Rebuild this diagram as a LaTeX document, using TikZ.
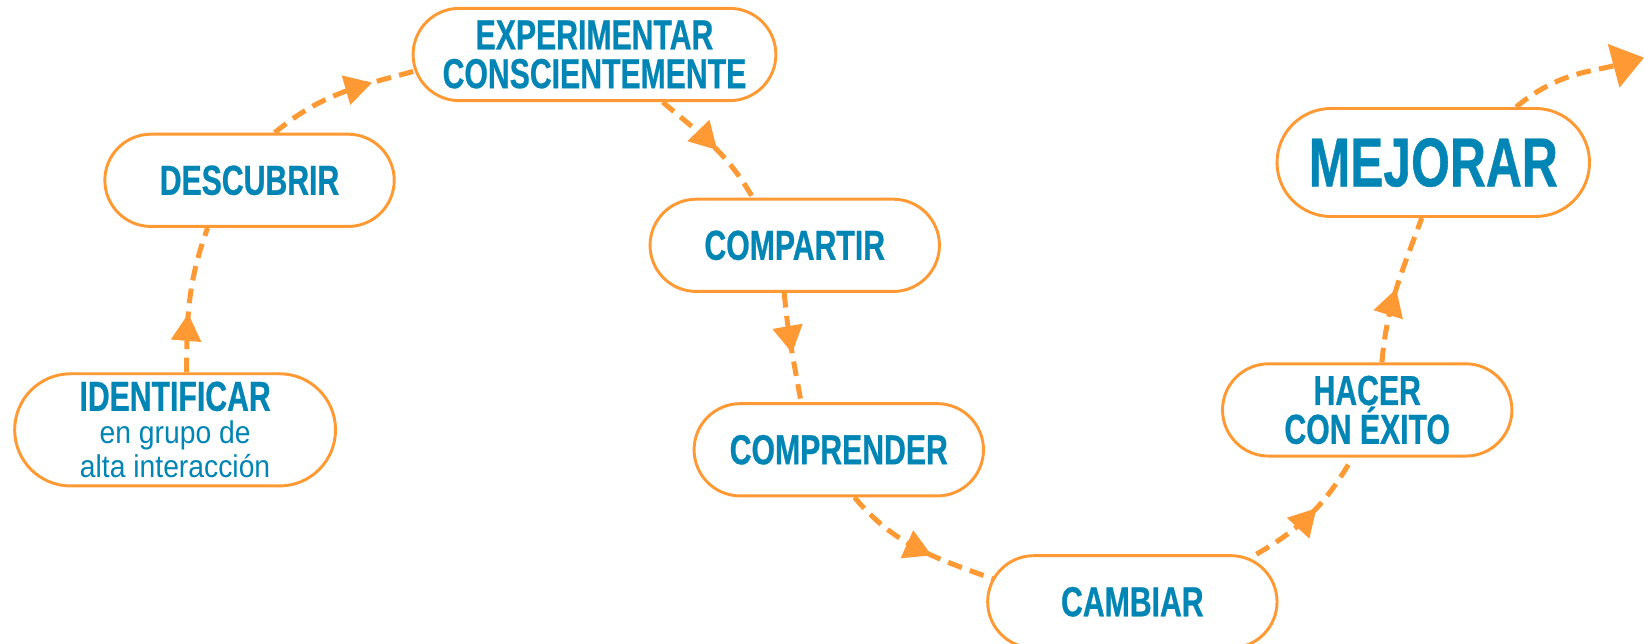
\documentclass[tikz,border=0pt]{standalone}
\usepackage{fontspec}
\setmainfont{Liberation Sans}
\newfontfamily\condfont[FakeStretch=0.72,FakeBold=0.6]{Liberation Sans}
\newfontfamily\subfont[FakeStretch=0.9]{Liberation Sans}
\usetikzlibrary{arrows.meta,decorations.markings}
\definecolor{floworange}{RGB}{255,153,51}
\definecolor{stageblue}{RGB}{0,133,181}

\begin{document}
\begin{tikzpicture}[x=0.5pt,y=0.5pt,
    stage/.style={draw=floworange, line width=1.4pt, fill=white, rounded corners=22pt,
      minimum width=138pt, minimum height=44pt, inner sep=0pt, text=stageblue,
      align=center, font=\condfont\bfseries\fontsize{20}{18.5}\selectfont},
    flow/.style={draw=floworange, line width=2.4pt, dash pattern=on 7pt off 4pt,
      postaction={decorate}, decoration={markings,
        mark=at position #1 with {\arrow[floworange]{Triangle[length=13pt,width=14pt]}}}},
    flowend/.style={draw=floworange, line width=2.4pt, dash pattern=on 7pt off 4pt,
      -{Triangle[length=15pt,width=21pt]}}]
    \useasboundingbox (0,0) rectangle (1568,614);
    \node [stage, minimum width=153pt, minimum height=53.5pt, rounded corners=26.7pt] (ident) at (167,204)
      {{\fontsize{20}{20}\selectfont IDENTIFICAR}\\[-3pt]
       {\subfont\mdseries\fontsize{15}{15.5}\selectfont en grupo de}\\[-2pt]
       {\subfont\mdseries\fontsize{15}{15.5}\selectfont alta interacción}};
    \node [stage] (desc) at (238,442) {DESCUBRIR};
    \node [stage, minimum width=173pt] (exper) at (567,562) {EXPERIMENTAR\\CONSCIENTEMENTE};
    \node [stage] (compa) at (758,380) {COMPARTIR};
    \node [stage] (compr) at (800,185) {COMPRENDER};
    \node [stage] (camb) at (1080,40) {CAMBIAR};
    \node [stage] (hacer) at (1304,223) {HACER\\CON ÉXITO};
    \node [stage, minimum width=149pt, minimum height=51.5pt, rounded corners=25.7pt,
      font=\condfont\bfseries\fontsize{33}{33}\selectfont] (mejor) at (1367,459) {MEJORAR};
    \coordinate (goal) at (1568,559);
    \draw [flow=0.4] ([xshift=5.5pt]ident.north) to[out=90,in=-110] ([xshift=-20pt]desc.south);
    \draw [flow=0.7] ([xshift=12pt]desc.north) to[out=40,in=195] ([xshift=3pt,yshift=-7.5pt]exper.west);
    \draw [flow=0.55] ([xshift=32.5pt]exper.south) to[out=-40,in=120] ([xshift=-20pt]compa.north);
    \draw [flow=0.55] ([xshift=-5pt]compa.south) to[out=-85,in=100] ([xshift=-18pt]compr.north);
    \draw [flow=0.6] ([xshift=7.5pt]compr.south) to[out=-50,in=160] ([xshift=3pt,yshift=11pt]camb.west);
    \draw [flow=0.55] (camb.21) to[out=30,in=240] ([xshift=-7pt]hacer.south);
    \draw [flow=0.5] ([xshift=7pt]hacer.north) to[out=85,in=-110] ([xshift=-5.5pt]mejor.south);
    \draw [flowend] ([xshift=39.5pt]mejor.north) to[out=40,in=195] (goal);
\end{tikzpicture}
\end{document}
